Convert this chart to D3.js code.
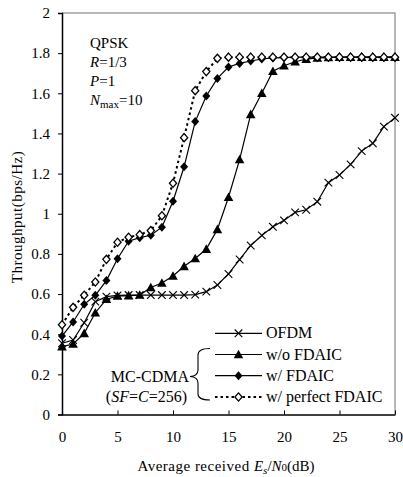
<!DOCTYPE html>
<html>
<head>
<meta charset="utf-8">
<script src="https://cdn.jsdelivr.net/npm/d3@7"></script>
<style>
  body { margin: 0; background: #fff; }
</style>
</head>
<body>
<div id="chart"></div>
<script>
// Es/N0 values (dB)
var snrDb = d3.range(0, 31);

// Throughput (bps/Hz)
var ofdm = [0.355, 0.371, 0.457, 0.562, 0.587, 0.593, 0.595, 0.595, 0.595, 0.595,
  0.595, 0.595, 0.597, 0.612, 0.645, 0.700, 0.772, 0.842, 0.892, 0.935,
  0.967, 1.007, 1.020, 1.060, 1.155, 1.193, 1.246, 1.312, 1.351, 1.434, 1.478];
var woFdaic = [0.338, 0.351, 0.404, 0.507, 0.574, 0.590, 0.592, 0.595, 0.633, 0.655,
  0.690, 0.738, 0.777, 0.824, 0.922, 1.082, 1.270, 1.495, 1.600, 1.710,
  1.737, 1.757, 1.770, 1.776, 1.778, 1.780, 1.780, 1.780, 1.780, 1.780, 1.780];
var wFdaic = [0.391, 0.461, 0.549, 0.594, 0.667, 0.776, 0.863, 0.881, 0.893, 0.933,
  1.062, 1.234, 1.459, 1.587, 1.674, 1.731, 1.749, 1.761, 1.771, 1.776,
  1.778, 1.780, 1.780, 1.780, 1.780, 1.780, 1.780, 1.780, 1.780, 1.780, 1.780];
var perfectFdaic = [0.447, 0.534, 0.594, 0.660, 0.773, 0.858, 0.883, 0.896, 0.916, 0.990,
  1.152, 1.379, 1.613, 1.708, 1.774, 1.780, 1.780, 1.780, 1.780, 1.780,
  1.780, 1.780, 1.780, 1.780, 1.780, 1.780, 1.780, 1.780, 1.780, 1.780, 1.780];

var xTicks = [0, 5, 10, 15, 20, 25, 30];
var yTicks = [0, 0.2, 0.4, 0.6, 0.8, 1, 1.2, 1.4, 1.6, 1.8, 2];

var legendNames = ["OFDM", "w/o FDAIC", "w/ FDAIC", "w/ perfect FDAIC"];

var serif = "'Liberation Serif', 'DejaVu Serif', 'Times New Roman', serif";

// series settings (drawn in this order, perfect on top)
var series = [
  { name: legendNames[0], values: ofdm, marker: "x", dash: null },
  { name: legendNames[1], values: woFdaic, marker: "triangle", dash: null },
  { name: legendNames[2], values: wFdaic, marker: "diamond", dash: null },
  { name: legendNames[3], values: perfectFdaic, marker: "openDiamond", dash: "2.5,3" }
];

var width = 403;
var height = 477;
var marginLeft = 62;
var marginRight = 8;
var marginTop = 13;
var marginBottom = 62.5;
var chartWidth = width - marginLeft - marginRight;
var chartHeight = height - marginTop - marginBottom;

var svg = d3.select("#chart").append("svg")
  .attr("width", width)
  .attr("height", height)
  .attr("font-family", serif);

var chart = svg.append("g")
  .attr("transform", "translate(" + marginLeft + "," + marginTop + ")");

var xScale = d3.scaleLinear().domain([0, 30]).range([0, chartWidth]);
var yScale = d3.scaleLinear().domain([0, 2]).range([chartHeight, 0]);

// top and right frame in grey
chart.append("path")
  .attr("d", "M0,0H" + chartWidth + "V" + chartHeight)
  .attr("fill", "none")
  .attr("stroke", "#a0a0a0")
  .attr("stroke-width", 1.5);

// Y axis, ticks pointing out
var yAxis = chart.append("g")
  .call(d3.axisLeft(yScale).tickValues(yTicks).tickSize(4).tickPadding(8)
    .tickFormat(function(d) { return d3.format("")(+d.toFixed(1)); }));
yAxis.attr("font-family", serif);
yAxis.select(".domain").attr("stroke-width", 1.5);
yAxis.selectAll("text").style("font-size", "15px").attr("fill", "#000");

// X axis, ticks pointing in
var xAxis = chart.append("g")
  .attr("transform", "translate(0," + chartHeight + ")")
  .call(d3.axisBottom(xScale).tickValues(xTicks).tickSizeInner(-4).tickSizeOuter(0).tickPadding(17));
xAxis.attr("font-family", serif);
xAxis.select(".domain").attr("stroke-width", 1.5);
xAxis.selectAll("text").style("font-size", "15px").attr("fill", "#000");

// marker shapes
function markerPath(type, s) {
  if (type === "x") {
    return "M" + (-s) + "," + (-s) + "L" + s + "," + s + "M" + (-s) + "," + s + "L" + s + "," + (-s);
  }
  if (type === "triangle") {
    return "M0," + (-s - 0.5) + "L" + (s + 0.5) + "," + (s - 0.5) + "L" + (-s - 0.5) + "," + (s - 0.5) + "Z";
  }
  return "M0," + (-s - 0.5) + "L" + s + ",0L0," + (s + 0.5) + "L" + (-s) + ",0Z";
}

function drawMarker(g, type, x, y) {
  var p = g.append("path")
    .attr("transform", "translate(" + x + "," + y + ")");
  if (type === "x") {
    p.attr("d", markerPath("x", 3.8)).attr("fill", "none").attr("stroke", "#000").attr("stroke-width", 1.1);
  } else if (type === "triangle") {
    p.attr("d", markerPath("triangle", 4.3)).attr("fill", "#000");
  } else if (type === "diamond") {
    p.attr("d", markerPath("diamond", 4)).attr("fill", "#000");
  } else {
    p.attr("d", markerPath("diamond", 3.6)).attr("fill", "#fff").attr("stroke", "#000").attr("stroke-width", 1.3);
  }
}

var line = d3.line()
  .x(function(d) { return xScale(d[0]); })
  .y(function(d) { return yScale(d[1]); });

series.forEach(function(s) {
  var pts = snrDb.map(function(x, i) { return [x, s.values[i]]; });
  chart.append("path")
    .datum(pts)
    .attr("d", line)
    .attr("fill", "none")
    .attr("stroke", "#000")
    .attr("stroke-width", s.dash ? 2 : 1.2)
    .attr("stroke-dasharray", s.dash);
  var mg = chart.append("g");
  pts.forEach(function(p) {
    drawMarker(mg, s.marker, xScale(p[0]), yScale(p[1]));
  });
});

// parameters text block
var info = svg.append("text").attr("x", 90).attr("y", 48).style("font-size", "15px");
info.text("QPSK");
var r = svg.append("text").attr("x", 90).attr("y", 67).style("font-size", "15px");
r.append("tspan").style("font-style", "italic").text("R");
r.append("tspan").text("=1/3");
var pp = svg.append("text").attr("x", 90).attr("y", 86).style("font-size", "15px");
pp.append("tspan").style("font-style", "italic").text("P");
pp.append("tspan").text("=1");
var nm = svg.append("text").attr("x", 90).attr("y", 105).style("font-size", "15px");
nm.append("tspan").style("font-style", "italic").text("N");
nm.append("tspan").attr("dy", 3).style("font-size", "11px").text("max");
nm.append("tspan").attr("dy", -3).text("=10");

// legend
var legendY = [333.3, 354.5, 375.7, 397];
var legend = svg.append("g");
series.forEach(function(s, i) {
  legend.append("line")
    .attr("x1", 215).attr("x2", 262)
    .attr("y1", legendY[i]).attr("y2", legendY[i])
    .attr("stroke", "#000")
    .attr("stroke-width", s.dash ? 2 : 1.2)
    .attr("stroke-dasharray", s.dash);
  drawMarker(legend, s.marker, 238.5, legendY[i]);
  legend.append("text")
    .attr("x", 266).attr("y", legendY[i] + 5)
    .style("font-size", "16px")
    .text(s.name);
});

// brace grouping the MC-CDMA entries
legend.append("path")
  .attr("d", "M210,348.5 Q198,348.5 198,355 L198,370 Q198,376 190,376.5 Q198,377 198,383 L198,394 Q198,400 210,400")
  .attr("fill", "none")
  .attr("stroke", "#000")
  .attr("stroke-width", 1.1);

svg.append("text")
  .attr("x", 189).attr("y", 382)
  .attr("text-anchor", "end")
  .style("font-size", "16px")
  .text("MC-CDMA");
var sf = svg.append("text")
  .attr("x", 187).attr("y", 402)
  .attr("text-anchor", "end")
  .style("font-size", "16px");
sf.append("tspan").text("(");
sf.append("tspan").style("font-style", "italic").text("SF");
sf.append("tspan").text("=");
sf.append("tspan").style("font-style", "italic").text("C");
sf.append("tspan").text("=256)");

// axis titles
var xt = svg.append("text")
  .attr("x", 226).attr("y", 471)
  .attr("text-anchor", "middle")
  .style("font-size", "15px");
xt.append("tspan").text("Average received ").style("letter-spacing", "0.5px");
xt.append("tspan").style("font-style", "italic").text("E");
xt.append("tspan").style("font-style", "italic").style("font-size", "11px").attr("dy", 3).text("s");
xt.append("tspan").attr("dy", -3).text("/");
xt.append("tspan").style("font-style", "italic").text("N");
xt.append("tspan").style("font-size", "11px").text("0");
xt.append("tspan").text("(dB)");

svg.append("text")
  .attr("transform", "translate(22,217) rotate(-90)")
  .attr("text-anchor", "middle")
  .style("font-size", "15px")
  .style("letter-spacing", "0.5px")
  .text("Throughput(bps/Hz)");
</script>
</body>
</html>
